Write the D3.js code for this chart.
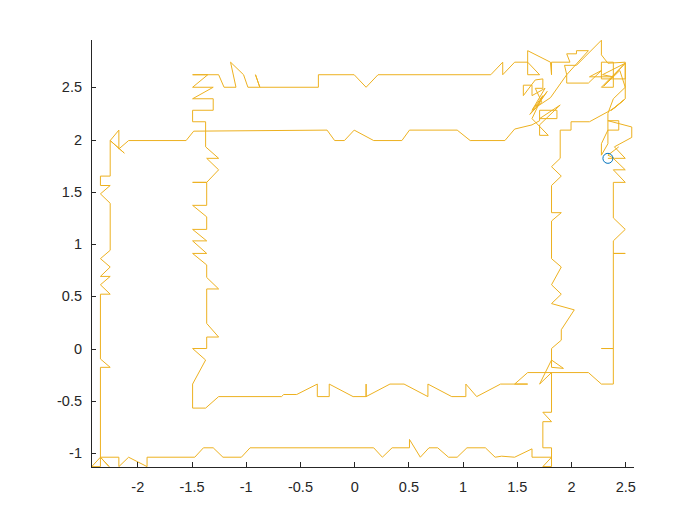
<!DOCTYPE html>
<html>
<head>
<meta charset="utf-8">
<script src="https://cdn.jsdelivr.net/npm/d3@7"></script>
<style>
body { margin: 0; background: #fff; }
svg { display: block; }
.axis text { font-family: "Liberation Sans", Arial, Helvetica, sans-serif; font-size: 14.5px; fill: #262626; }
.axis path, .axis line { stroke: #262626; stroke-width: 1; shape-rendering: crispEdges; }
</style>
</head>
<body>
<script>
// trajectory (inner loop, top-right tangle, outer loop, tangle again)
var pathX = [
  2.34, 2.39, 2.50, 2.39, 2.50, 2.39, 2.39, 2.50, 2.39, 2.39, 2.50, 2.39, 2.39, 2.28, 2.39, 2.39, 2.28, 2.16, 1.60, 1.48,
  1.60, 1.35, 1.13, 1.03, 1.03, 0.90, 0.68, 0.68, 0.46, 0.33, 0.11, 0.11, 0.11, -0.01, -0.23, -0.23, -0.34, -0.34, -0.53, -0.65, -0.67,
  -1.25, -1.37, -1.49, -1.49, -1.37, -1.49, -1.36, -1.36, -1.25, -1.36, -1.36, -1.25, -1.36, -1.36, -1.49, -1.36, -1.49, -1.36, -1.49,
  -1.36, -1.36, -1.49, -1.36, -1.36, -1.49, -1.36, -1.25, -1.36, -1.25, -1.37, -1.37, -1.49, -1.49, -1.30, -1.30, -1.49, -1.30, -1.49,
  -1.35, -1.49, -1.25, -1.20, -1.09, -1.14, -1.02, -0.98, -0.87, -0.91, -0.87, -0.33, -0.33, 0.00, 0.11, 0.22, 1.26, 1.37, 1.37, 1.48, 1.60,
  1.71, 1.60, 1.60, 1.81, 1.82, 1.82, 1.99, 1.96, 2.05, 2.05, 2.16, 1.96, 1.94, 2.05, 2.28, 2.28, 2.34, 2.50, 2.50, 2.28,
  2.28, 2.39, 2.39, 2.28, 2.50, 2.50, 2.37, 2.49, 2.40, 2.17, 2.00, 2.00, 1.90,
  1.90, 1.82, 1.91, 1.82, 1.82, 1.91, 1.82, 1.82, 1.91, 1.82, 1.91, 1.82, 2.03, 1.91, 1.91, 1.82, 1.82, 1.93, 1.82, 1.71,
  1.82, 1.82, 1.74, 1.82, 1.74, 1.74, 1.82, 1.82, 1.74, 1.82, 1.64, 1.64, 1.48, 1.36, 1.30, 1.21, 1.04, 0.95, 0.87, 0.77,
  0.69, 0.61, 0.51, 0.51, 0.35, 0.26, 0.18, -0.96, -1.04, -1.21, -1.30, -1.39, -1.47, -1.91, -1.91, -2.08, -2.17, -2.17, -2.34, -2.26,
  -2.34, -2.42, -2.34,
  -2.34, -2.25, -2.34, -2.34, -2.25, -2.34, -2.25, -2.34, -2.25, -2.34, -2.25, -2.25, -2.34, -2.25, -2.34, -2.34, -2.25, -2.25, -2.12, -2.25,
  -2.17, -2.17, -2.08, -1.55, -1.48, -0.25, -0.18, -0.09, 0.00, 0.18, 0.44, 0.51, 0.95, 1.07, 1.39,
  1.48, 1.64, 1.71, 1.71, 1.87, 1.87, 1.71, 1.90, 1.71, 1.71, 1.79, 1.64, 1.74, 1.64, 1.76, 1.64, 1.64, 1.56, 1.56, 1.67,
  1.74, 1.74, 1.67, 1.73, 1.62, 1.78, 1.68, 1.81, 1.96, 1.96, 2.16, 2.28, 2.17, 2.39, 2.29, 2.50, 2.30, 2.45,
  2.50, 2.39, 2.34, 2.34, 2.28, 2.28, 2.34, 2.44, 2.44, 2.34, 2.56,
  2.56, 2.40, 2.50, 2.40, 2.34, 2.44
];
var pathY = [
  1.82, 1.82, 1.71, 1.71, 1.59, 1.59, 1.25, 1.14, 1.03, 0.91, 0.91, 0.91, 0.00, 0.00, 0.00, -0.34, -0.34, -0.23, -0.23, -0.34,
  -0.34, -0.34, -0.46, -0.34, -0.46, -0.46, -0.34, -0.46, -0.34, -0.34, -0.46, -0.34, -0.46, -0.46, -0.34, -0.46, -0.46, -0.34, -0.44, -0.44, -0.46,
  -0.46, -0.57, -0.57, -0.34, -0.11, 0.00, 0.00, 0.11, 0.11, 0.24, 0.57, 0.57, 0.68, 0.80, 0.91, 0.91, 1.03, 1.03, 1.14,
  1.14, 1.26, 1.37, 1.37, 1.59, 1.59, 1.59, 1.71, 1.82, 1.82, 1.93, 2.17, 2.17, 2.28, 2.28, 2.39, 2.39, 2.50, 2.50,
  2.62, 2.62, 2.62, 2.50, 2.50, 2.74, 2.62, 2.50, 2.50, 2.62, 2.50, 2.50, 2.62, 2.62, 2.50, 2.62, 2.62, 2.74, 2.62, 2.74, 2.74,
  2.62, 2.62, 2.85, 2.74, 2.62, 2.74, 2.74, 2.82, 2.82, 2.85, 2.85, 2.62, 2.71, 2.71, 2.95, 2.81, 2.73, 2.74, 2.58, 2.58,
  2.74, 2.74, 2.50, 2.50, 2.73, 2.39, 2.28, 2.38, 2.30, 2.17, 2.17, 2.09, 2.09,
  1.82, 1.74, 1.65, 1.56, 1.30, 1.30, 1.22, 0.86, 0.78, 0.61, 0.52, 0.43, 0.37, 0.18, 0.08, 0.00, -0.18, -0.19, -0.11, -0.34,
  -0.23, -0.61, -0.61, -0.70, -0.70, -0.95, -0.95, -1.13, -1.13, -1.04, -1.04, -0.96, -1.04, -1.03, -1.04, -0.95, -0.95, -1.04, -1.04, -0.95,
  -0.95, -1.04, -0.87, -0.95, -0.95, -1.04, -0.95, -0.95, -1.04, -1.04, -0.95, -0.95, -1.04, -1.04, -1.13, -1.04, -1.13, -1.04, -1.04, -1.13,
  -1.04, -1.13, -1.13,
  -0.18, -0.18, -0.10, 0.52, 0.52, 0.61, 0.69, 0.69, 0.78, 0.86, 0.94, 1.39, 1.48, 1.56, 1.56, 1.65, 1.65, 1.99, 1.87, 1.99,
  2.09, 1.91, 1.99, 1.99, 2.08, 2.09, 1.99, 1.99, 2.09, 1.99, 1.99, 2.09, 2.09, 1.99, 1.99,
  2.10, 2.14, 2.18, 2.28, 2.28, 2.20, 2.20, 2.33, 2.14, 2.04, 2.04, 2.20, 2.42, 2.28, 2.49, 2.42, 2.52, 2.52, 2.42, 2.57,
  2.58, 2.49, 2.49, 2.36, 2.24, 2.46, 2.31, 2.40, 2.62, 2.54, 2.54, 2.66, 2.60, 2.60, 2.62, 2.73, 2.51, 2.66,
  2.50, 2.39, 2.25, 1.96, 1.85, 1.96, 2.09, 2.09, 2.18, 2.18, 2.12,
  2.02, 1.93, 1.82, 1.82, 1.85, 1.93
];

var markerX = [2.34];
var markerY = [1.82];

var xTicks = [-2, -1.5, -1, -0.5, 0, 0.5, 1, 1.5, 2, 2.5];
var xTickLabels = ["-2", "-1.5", "-1", "-0.5", "0", "0.5", "1", "1.5", "2", "2.5"];
var yTicks = [-1, -0.5, 0, 0.5, 1, 1.5, 2, 2.5];
var yTickLabels = ["-1", "-0.5", "0", "0.5", "1", "1.5", "2", "2.5"];

var width = 700, height = 525;
var plotLeft = 91, plotRight = 633.5, plotTop = 39.4, plotBottom = 467.25;

var x = d3.scaleLinear().domain([-2.427, 2.576]).range([plotLeft, plotRight]);
var y = d3.scaleLinear().domain([-1.136, 2.958]).range([plotBottom, plotTop]);

var svg = d3.select('body').append('svg')
    .attr('width', width)
    .attr('height', height);

svg.append('clipPath').attr('id', 'plotClip')
  .append('rect')
    .attr('x', plotLeft).attr('y', plotTop)
    .attr('width', plotRight - plotLeft).attr('height', plotBottom - plotTop);

var points = pathX.map(function(d, i) { return [d, pathY[i]]; });

var line = d3.line()
    .x(function(d) { return x(d[0]); })
    .y(function(d) { return y(d[1]); });

svg.append('path')
    .datum(points)
    .attr('clip-path', 'url(#plotClip)')
    .attr('d', line)
    .attr('fill', 'none')
    .attr('stroke', '#EDB120')
    .attr('stroke-width', 1)
    .attr('stroke-linejoin', 'miter');

svg.selectAll('.marker')
    .data(markerX)
    .enter().append('circle')
    .attr('class', 'marker')
    .attr('cx', function(d) { return x(d); })
    .attr('cy', function(d, i) { return y(markerY[i]); })
    .attr('r', 5)
    .attr('fill', 'none')
    .attr('stroke', '#0072BD')
    .attr('stroke-width', 1);

// MATLAB style: ticks point inward, no box
var xAxis = d3.axisBottom(x)
    .tickValues(xTicks)
    .tickFormat(function(d, i) { return xTickLabels[i]; })
    .tickSizeInner(-5)
    .tickSizeOuter(0)
    .tickPadding(14);

var yAxis = d3.axisLeft(y)
    .tickValues(yTicks)
    .tickFormat(function(d, i) { return yTickLabels[i]; })
    .tickSizeInner(-5)
    .tickSizeOuter(0)
    .tickPadding(9);

svg.append('g')
    .attr('class', 'axis')
    .attr('transform', 'translate(0,' + plotBottom + ')')
    .call(xAxis);

svg.append('g')
    .attr('class', 'axis')
    .attr('transform', 'translate(' + plotLeft + ',0)')
    .call(yAxis);

svg.selectAll('.axis .domain').attr('fill', 'none');
</script>
</body>
</html>
